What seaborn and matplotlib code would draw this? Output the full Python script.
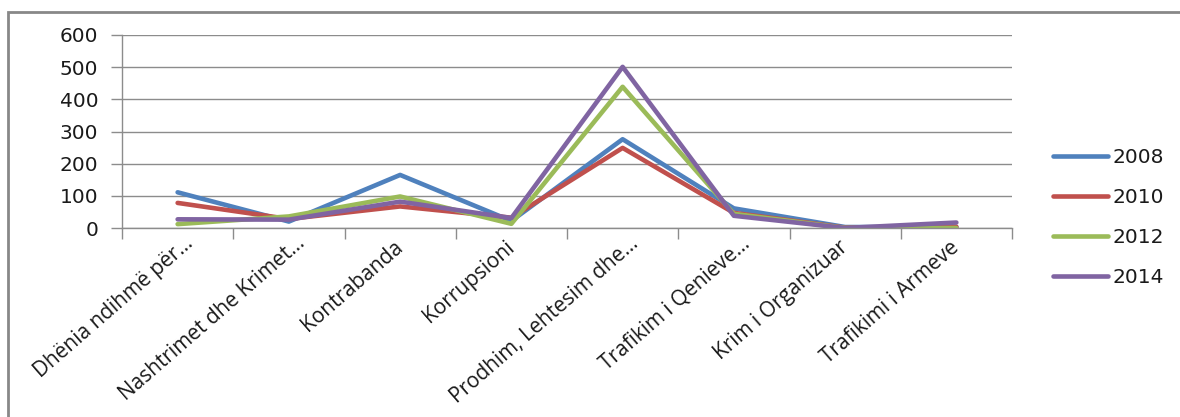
import matplotlib
matplotlib.use("Agg")
import matplotlib.pyplot as plt
from matplotlib.patches import Rectangle
from matplotlib.transforms import ScaledTranslation
import seaborn as sns
import pandas as pd

categories = [
    "Dhënia ndihmë për…",
    "Nashtrimet dhe Krimet…",
    "Kontrabanda",
    "Korrupsioni",
    "Prodhim, Lehtesim dhe…",
    "Trafikim i Qenieve…",
    "Krim i Organizuar",
    "Trafikimi i Armeve",
]
years = ["2008", "2010", "2012", "2014"]
v2008 = [111, 20, 165, 22, 276, 61, 3, 3]
v2010 = [78, 28, 67, 32, 249, 47, 1, 4]
v2012 = [12, 36, 98, 13, 439, 44, 0, 0]
v2014 = [27, 26, 82, 31, 501, 38, 0, 17]
y_ticks = [0, 100, 200, 300, 400, 500, 600]

colors = ["#4F81BD", "#C0504D", "#9BBB59", "#8064A2"]

rows = []
for yr, vals in zip(years, [v2008, v2010, v2012, v2014]):
    for i, (c, v) in enumerate(zip(categories, vals)):
        rows.append({"pos": i, "cat": c, "year": yr, "value": v})
df = pd.DataFrame(rows)

sns.set_style("white")
plt.rcParams["font.family"] = ["DejaVu Sans"]

FS = 14.5
TXT = "#1a1a1a"
W, H = 1180, 417
fig = plt.figure(figsize=(W / 100, H / 100), dpi=100)
ax = fig.add_axes([122 / W, 1 - 228 / H, (1012 - 122) / W, (228 - 35) / H])

sns.lineplot(data=df, x="pos", y="value", hue="year", palette=colors,
             linewidth=3.3, ax=ax, legend=True, sort=False)

grid_c = "#8C8C8C"
ax.set_xlim(-0.5, len(categories) - 0.5)
ax.set_ylim(0, 600)
ax.set_yticks(y_ticks)
ax.set_yticklabels([str(t) for t in y_ticks], fontsize=FS, color=TXT)
ax.yaxis.grid(True, color=grid_c, linewidth=1)
ax.xaxis.grid(False)
ax.set_axisbelow(True)
ax.tick_params(axis="y", length=8, width=1, color=grid_c, pad=9, left=True)

# category boundaries as major ticks, labels at category centers
ax.set_xticks([i - 0.5 for i in range(len(categories) + 1)])
ax.set_xticklabels([])
ax.set_xticks(list(range(len(categories))), minor=True)
ax.set_xticklabels(categories, minor=True, rotation=41, ha="right", va="center",
                   rotation_mode="anchor", fontsize=15, color=TXT,
                   family=["Open Sans", "DejaVu Sans"])
ax.tick_params(axis="x", which="major", length=8, width=1, color=grid_c, bottom=True)
ax.tick_params(axis="x", which="minor", length=0, pad=12)
for lab in ax.get_xticklabels(minor=True):
    if lab.get_text().endswith("…"):
        lab.set_transform(lab.get_transform() +
                          ScaledTranslation(13 / 100, 4 / 100, fig.dpi_scale_trans))
ax.set_xlabel("")
ax.set_ylabel("")

for s in ["top", "right"]:
    ax.spines[s].set_visible(False)
ax.spines["left"].set_color(grid_c)
ax.spines["bottom"].set_color(grid_c)
ax.spines["left"].set_linewidth(1)
ax.spines["bottom"].set_linewidth(1)

handles, labels = ax.get_legend_handles_labels()
ax.legend_.remove()
leg = fig.legend(handles, labels, loc="upper left",
                 bbox_to_anchor=(1045 / W, 1 - 140 / H), frameon=False,
                 fontsize=FS, handlelength=2.75, handletextpad=0.2,
                 labelspacing=1.04, borderaxespad=0)
for t in leg.get_texts():
    t.set_color(TXT)

fig.patches.append(Rectangle((8 / W, -0.2), 1.2, 1.2 - 12 / H,
                             transform=fig.transFigure, fill=False,
                             edgecolor="#888888", linewidth=2))

fig.savefig("out.png", dpi=100)
